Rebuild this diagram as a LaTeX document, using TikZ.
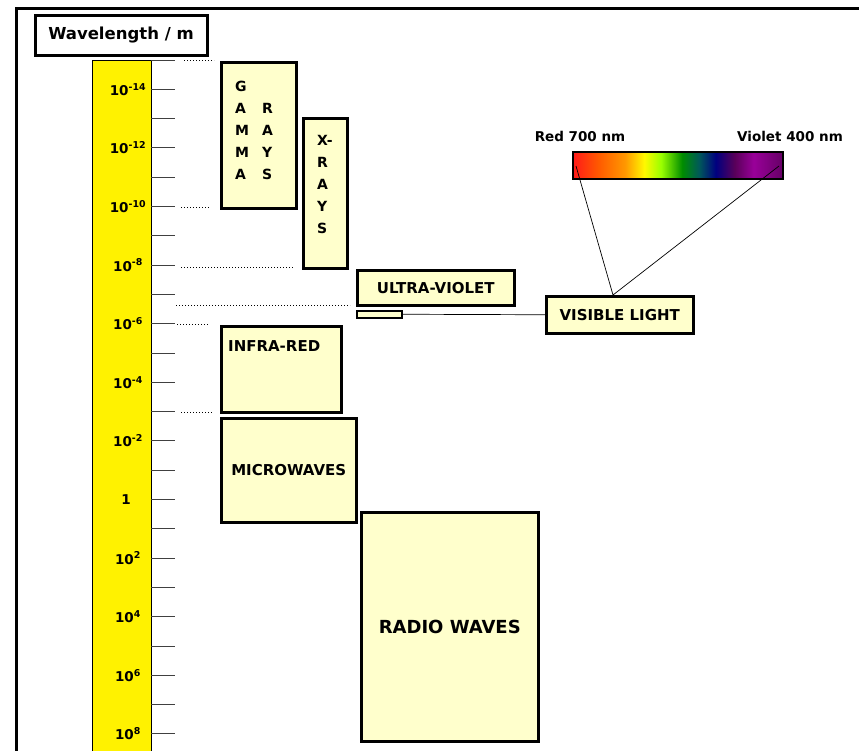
\documentclass[tikz,border=0pt]{standalone}
\usepackage{fontspec}
\setmainfont{DejaVu Sans}
\usetikzlibrary{positioning}
\definecolor{paleyellow}{HTML}{FFFFCC}
\pgfdeclarehorizontalshading{spectrum}{100bp}{color(0bp)=(red!90!black); color(25bp)=(red!90);
  color(31bp)=(orange!70!red); color(37.5bp)=(orange!80!yellow); color(42bp)=(yellow!95!orange);
  color(46bp)=(yellow!60!green); color(51bp)=(green!55!black); color(55bp)=(teal!70!black);
  color(59bp)=(blue!50!black); color(63.5bp)=(violet!70!black); color(68bp)=(magenta!60!black);
  color(75bp)=(violet!80!black); color(100bp)=(violet!80!black)}

\begin{document}
\begin{tikzpicture}[x=1pt,y=-1pt,
  % boxes of the bands
  band/.style={draw=black,line width=2.5pt,fill=paleyellow,inner sep=0pt,anchor=north west},
  lbl/.style={font=\bfseries\fontsize{15}{17}\selectfont,inner sep=0pt},
  ticklbl/.style={font=\bfseries\fontsize{13.5}{16}\selectfont,inner sep=0pt},
  tick/.style={draw=black!75,line width=0.9pt},
  guide/.style={draw=black,line width=1pt,dash pattern=on 1pt off 2pt},
  thin/.style={draw=black,line width=0.7pt}
]
\useasboundingbox (0,0) rectangle (859,750);

% frame and title
\draw[line width=3pt] (16,760) -- (16,8) -- (870,8);
\node[draw=black,line width=3pt,fill=white,minimum width=172pt,minimum height=40pt,inner sep=0pt,
      font=\bfseries\fontsize{16.5}{18}\selectfont] (title) at (121,35) {Wavelength / m};

% the scale
\node[draw=black,line width=1pt,fill=yellow,minimum width=59pt,minimum height=710pt,
      inner sep=0pt,anchor=north west] (scale) at (92,60) {};
\foreach \k in {0,...,23}
  \draw[tick] (151,{60+29.3*\k}) -- (175,{60+29.3*\k});
\foreach \k/\e in {1/-14,3/-12,5/-10,7/-8,9/-6,11/-4,13/-2,17/2,19/4,21/6,23/8}
  \node[ticklbl] (p\k) at (128,{60+29.3*\k}) {10\textsuperscript{\e}};
\node[ticklbl] (p15) at (126,{60+29.3*15}) {1};

% dotted guides
\draw[guide] (184,60) -- (214,60);
\draw[guide] (181,207) -- (209,207);
\draw[guide] (181,267) -- (294,267);
\draw[guide] (176,305) -- (350,305);
\draw[guide] (177,324) -- (209,324);
\draw[guide] (181,412) -- (213,412);

% gamma rays
\node[band,minimum width=75pt,minimum height=146pt] (gamma) at (220,61) {};
\node[lbl,below right=15pt and 15pt of gamma.north west,anchor=north west,
      font=\bfseries\fontsize{14}{22}\selectfont] (gammatxt)
  {\begin{tabular}{@{}l@{\hspace{13pt}}l@{}}G&\\A&R\\M&A\\M&Y\\A&S\end{tabular}};

% x-rays
\node[band,minimum width=44pt,minimum height=150pt] (xray) at (302,117) {};
\node[lbl,anchor=north west,font=\bfseries\fontsize{14}{22}\selectfont] (xraytxt) at (317,130)
  {\begin{tabular}{@{}l@{}}X-\\R\\A\\Y\\S\end{tabular}};

% ultra-violet and visible
\node[band,minimum width=157pt,minimum height=35pt,font=\bfseries\fontsize{15}{17}\selectfont] (uv) at (356,269) {ULTRA-VIOLET};
\node[band,line width=2pt,minimum width=45pt,minimum height=6.5pt] (vis) at (356,310) {};
\node[band,minimum width=147pt,minimum height=37pt,font=\bfseries\fontsize{15}{17}\selectfont] (vislbl) at (545,295) {VISIBLE LIGHT};
\draw[thin] (vis.east) -- (vislbl.west);

% spectrum
\node[draw=black,line width=2pt,shading=spectrum,minimum width=210pt,minimum height=27pt,
      inner sep=0pt,anchor=north west] (spec) at (572,151) {};
\node[font=\bfseries\fontsize{13.5}{15}\selectfont,inner sep=0pt] (red) at (580,136) {Red 700 nm};
\node[font=\bfseries\fontsize{13.5}{15}\selectfont,inner sep=0pt] (violet) at (790,136) {Violet 400 nm};
\coordinate (redend) at (576,166);
\coordinate (vioend) at (779,166);
\coordinate (apex) at (613,295);
\draw[thin] (redend) -- (apex) -- (vioend);

% infra-red, microwaves, radio
\node[band,minimum width=120pt,minimum height=86pt] (ir) at (220,325) {};
\node[lbl,anchor=north west] (irtxt) at (228,340) {INFRA-RED};
\node[band,minimum width=135pt,minimum height=104pt,font=\bfseries\fontsize{15}{17}\selectfont] (micro) at (220,417) {MICROWAVES};
\node[band,minimum width=177pt,minimum height=229pt,font=\bfseries\fontsize{18}{20}\selectfont] (radio) at (360,511) {RADIO WAVES};

\end{tikzpicture}
\end{document}
